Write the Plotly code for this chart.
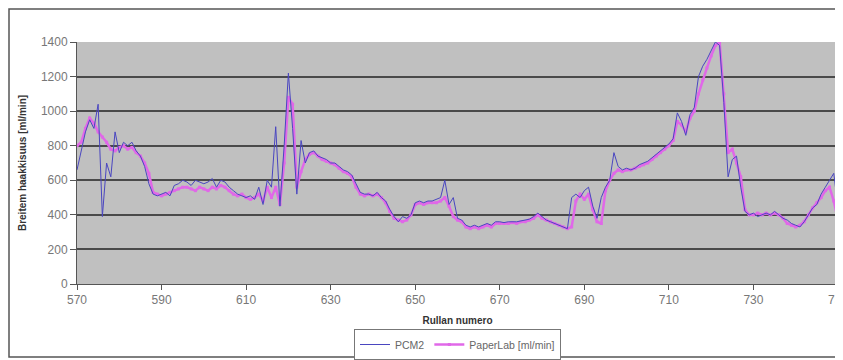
import plotly.graph_objects as go

rolls = list(range(570, 751))

paperlab = [
    800, 820, 900, 960, 930, 880, 850, 820, 780, 770,
    790, 800, 780, 790, 760, 740, 700, 640, 530, 520,
    510, 520, 530, 540, 550, 560, 560, 550, 540, 560,
    550, 540, 560, 550, 570, 560, 540, 520, 510, 520,
    500, 490, 500, 520, 480, 560, 500, 560, 460, 700,
    1080, 1040, 560, 650, 720, 750, 760, 740, 720, 710,
    700, 690, 670, 650, 640, 620, 560, 520, 510, 520,
    510, 520, 500, 470, 420, 380, 370, 360, 370, 400,
    460, 470, 460, 470, 470, 470, 480, 500, 450, 390,
    370, 360, 330, 320, 330, 320, 330, 340, 330, 350,
    350, 350, 350, 355, 350, 360, 360, 370, 380, 400,
    380, 370, 360, 350, 340, 330, 320, 330, 480, 520,
    490, 520, 430, 360, 350, 540, 600, 640, 660, 650,
    660, 660, 670, 680, 690, 700, 720, 740, 760, 780,
    800, 830, 940, 920, 880, 960, 1000, 1100, 1180, 1250,
    1320, 1380, 1400, 1100, 760, 780, 700, 620, 430, 400,
    400, 410, 400, 410, 400, 410, 400, 380, 350, 340,
    330, 340, 360, 400, 440, 470, 500, 540, 560, 480,
    370,
]

pcm2 = [
    660, 780, 880, 950, 900, 1040, 390, 700, 620, 880,
    760, 820, 800, 820, 770, 740, 680, 580, 520, 510,
    520, 530, 510, 570, 580, 600, 590, 570, 600, 590,
    580, 590, 610, 560, 600, 590, 560, 540, 520, 510,
    500, 510, 490, 560, 460, 600, 560, 910, 450, 800,
    1220, 900, 520, 830, 700, 760, 770, 740, 730, 720,
    700, 700, 680, 660, 650, 630, 580, 530, 520, 520,
    510, 530, 500, 480, 430, 390, 360, 390, 380, 400,
    470, 480, 470, 480, 480, 490, 500, 600, 460, 500,
    380, 370, 340, 330, 340, 330, 340, 350, 340, 360,
    360, 355, 360, 360, 360, 365, 370, 375, 390, 410,
    390, 370, 360, 350, 340, 330, 320, 500, 520, 500,
    540, 560, 450, 380, 500, 560, 600, 760, 680, 660,
    670, 660, 670, 690, 700, 710, 730, 750, 770, 790,
    810, 840, 990, 940, 860, 980, 1020, 1200, 1260, 1300,
    1350, 1400, 1380, 1050, 620, 720, 740, 560, 420, 400,
    410, 390, 400, 410, 400, 420, 400, 380, 370, 350,
    340, 330, 360, 400, 440, 460, 520, 560, 600, 640,
    440,
]

x_ticks = [570, 590, 610, 630, 650, 670, 690, 710, 730, 750]
y_ticks = [0, 200, 400, 600, 800, 1000, 1200, 1400]

fig = go.Figure()
fig.add_trace(go.Scatter(
    x=rolls, y=paperlab, name="PaperLab [ml/min]", mode="lines+markers",
    line=dict(color="#e068e8", width=2.5),
    marker=dict(symbol="square", size=3, color="#e068e8"),
))
fig.add_trace(go.Scatter(
    x=rolls, y=pcm2, name="PCM2", mode="lines",
    line=dict(color="#4a46c0", width=1),
))

fig.update_layout(
    width=835, height=352,
    margin=dict(l=69, r=5, t=34, b=76, autoexpand=False),
    paper_bgcolor="white",
    plot_bgcolor="#c0c0c0",
    font=dict(family="Liberation Sans, Arial, sans-serif", size=11, color="#333333"),
    showlegend=True,
    legend=dict(
        orientation="h", x=0.5, xanchor="center",
        yref="container", y=(352 - 321) / 352, yanchor="top",
        bordercolor="#777777", borderwidth=1, bgcolor="white",
        font=dict(size=10.5, color="#666666"), traceorder="reversed",
        itemwidth=30,
    ),
    xaxis=dict(
        range=[570, 750], tickvals=x_ticks, ticktext=[str(v) for v in x_ticks],
        showgrid=False, zeroline=False, showline=True, linecolor="#555555",
        ticks="outside", ticklen=5, tickcolor="#555555",
        ticklabeloverflow="allow",
        title=dict(text="<b>Rullan numero</b>", font=dict(size=10, color="#333333"), standoff=10),
        tickfont=dict(size=12, color="#777777"),
    ),
    yaxis=dict(
        range=[0, 1400], tickvals=y_ticks,
        showgrid=True, gridcolor="#4a4a4a", gridwidth=1.5, zeroline=False,
        showline=True, linecolor="#555555",
        ticks="outside", ticklen=6, tickcolor="#555555",
        title=dict(text="<b>Breitem haakkisuus [ml/min]</b>", font=dict(size=10, color="#333333"), standoff=12),
        tickfont=dict(size=12, color="#777777"),
    ),
    shapes=[
        dict(type="rect", xref="paper", yref="paper",
             x0=-68 / 761, x1=1.012, y0=-0.3017, y1=1 + 33 / 242,
             line=dict(color="#555555", width=1.5), layer="below"),
        dict(type="line", xref="paper", yref="paper",
             x0=1, x1=1, y0=0, y1=1, line=dict(color="#444444", width=1.5)),
    ],
)

fig.write_html("out.html")
